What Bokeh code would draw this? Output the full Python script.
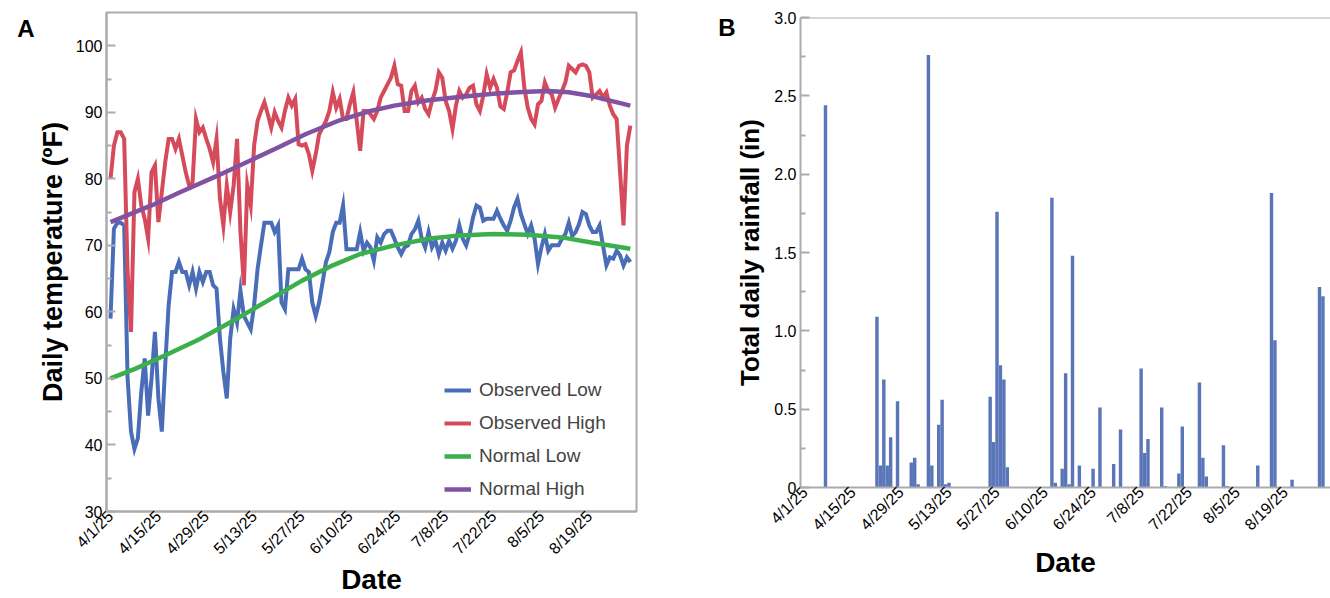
from math import pi
from bokeh.plotting import figure
from bokeh.layouts import row, column
from bokeh.models import (FixedTicker, Legend, LegendItem, Span, Range1d, LinearAxis,
                          CustomJSTickFormatter)
from bokeh.embed import file_html
from bokeh.resources import INLINE

# ---------------- data ----------------
tick_days = [0, 14, 28, 42, 56, 70, 84, 98, 112, 126, 140]
tick_labels = ["4/1/25", "4/15/25", "4/29/25", "5/13/25", "5/27/25", "6/10/25",
               "6/24/25", "7/8/25", "7/22/25", "8/5/25", "8/19/25"]

# daily observed temperatures, 4/1/25 .. 8/31/25 (day 0 .. 152)
observed_low = [
    59, 72.5, 73.4, 73.4, 73, 50, 42, 39.4, 41, 48,
    53, 44.4, 50, 57, 47, 42, 52, 61, 66, 66,
    67.5, 66, 66, 64, 66, 63.5, 66, 64.5, 66, 66,
    64, 63.5, 56, 51, 47, 56, 60.4, 58.4, 63.2, 59.4,
    58.4, 57.4, 61, 66.4, 70, 73.4, 73.4, 73.4, 72, 73,
    61.4, 60.4, 66.4, 66.4, 66.4, 66.4, 68, 66.4, 66, 61.4,
    59.4, 61.4, 64.4, 67.5, 69, 72, 73.4, 73.4, 76, 69.4,
    69.4, 69.4, 69.4, 72, 69.2, 70.4, 69.7, 67.7, 71.2, 70.4,
    71.7, 72.2, 72.2, 71, 69.7, 68.7, 69.7, 70, 71.7, 72.4,
    73.7, 71, 69.7, 72, 69.7, 70.7, 68.7, 70.4, 69.2, 70.7,
    69.5, 70.7, 73, 71, 70, 71.7, 74.2, 76, 75.7, 73.7,
    74, 74, 74, 75.2, 74, 73, 72.2, 73.7, 75.7, 77,
    74.7, 73.2, 71.7, 73, 71, 67.2, 69.7, 71.7, 69.2, 70,
    70, 70, 71, 71.7, 73.4, 71.4, 72, 73.2, 75, 74.7,
    73, 72, 72, 73, 70, 67, 68.2, 68, 69.2, 68.5,
    67, 68.2, 67.5,
]
observed_high = [
    80, 85, 87, 87, 86, 66, 57, 78, 80, 76,
    74, 71, 81, 82, 73.5, 78, 82.5, 86, 86, 84.5,
    86, 83.5, 81, 79, 79.5, 89, 87, 87.7, 86, 84.5,
    82.5, 86, 77, 73, 79, 75, 79, 86, 72, 64,
    79, 76, 85, 88.7, 90.2, 91.5, 89.7, 87.7, 90, 88.7,
    87.7, 90.2, 92.2, 91, 92, 85.2, 85, 85.2, 83.7, 81.2,
    83.7, 86.7, 87.7, 88.7, 90.2, 93, 90.7, 92, 89, 89,
    91.2, 93, 88.7, 84.2, 90.2, 90.2, 89.7, 89, 90.2, 92.2,
    93.2, 94.2, 95.2, 97, 94.2, 94, 90.2, 90.2, 93.2, 94,
    91.5, 92.2, 90.5, 89.7, 91.7, 93.2, 96, 95.2, 91.7, 90.2,
    87.5, 91, 93.2, 92.2, 92.7, 93.7, 94, 91.2, 90.2, 92.5,
    95.7, 93.7, 95, 93.7, 90.9, 90.5, 93, 96, 96.3, 97.7,
    99, 93.7, 90.7, 89, 88.2, 91.2, 91.7, 94.5, 93.2, 92.7,
    90.7, 92, 93.2, 94.5, 97, 96.5, 96, 97, 97.2, 97,
    96, 92.2, 92.7, 93.2, 92.2, 93, 91, 89.7, 89, 81,
    73, 85, 88,
]
obs_days = list(range(len(observed_high)))

# climate normals (read at selected days)
normal_high_days = [0, 12, 20, 31, 39, 49, 57, 67, 76, 83, 93, 102, 112, 122, 128, 134, 141, 152]
normal_high = [73.5, 76.0, 77.9, 80.4, 82.3, 84.7, 86.7, 88.8, 90.2, 91.0, 91.8, 92.3,
               92.8, 93.1, 93.2, 93.0, 92.4, 91.0]
normal_low_days = [0, 7, 17, 26, 36, 46, 56, 65, 73, 83, 93, 102, 112, 122, 132, 141, 152]
normal_low = [50.0, 51.4, 53.7, 55.9, 58.7, 61.7, 64.7, 67.0, 68.7, 70.0, 71.0, 71.5,
              71.7, 71.6, 71.2, 70.4, 69.5]

# daily rainfall (in), days with rain only
rain_days = [6, 21, 22, 23, 24, 25, 27, 31, 32, 33, 36, 37, 39, 40, 41, 42,
             54, 55, 56, 57, 58, 59, 72, 73, 75, 76, 77, 78, 80, 84, 86, 90, 92,
             98, 99, 100, 104, 105, 109, 110, 115, 116, 117, 122, 123, 132,
             136, 137, 142, 150, 151]
rain_in = [2.44, 1.09, 0.14, 0.69, 0.14, 0.32, 0.55, 0.16, 0.19, 0.02, 2.76, 0.14,
           0.40, 0.56, 0.02, 0.03, 0.58, 0.29, 1.76, 0.78, 0.69, 0.13, 1.85, 0.03,
           0.12, 0.73, 0.02, 1.48, 0.14, 0.12, 0.51, 0.15, 0.37, 0.76, 0.22, 0.31,
           0.51, 0.01, 0.09, 0.39, 0.67, 0.19, 0.07, 0.27, 0.01, 0.14, 1.88, 0.94,
           0.05, 1.28, 1.22]

panel_letters = ["A", "B"]

# ---------------- style ----------------
FONT = "Liberation Sans"
GRAY = "#ABABAB"
C_LOW = "#4A6DB8"
C_HIGH = "#D64B5B"
C_NLOW = "#3BAF4B"
C_NHIGH = "#8152A1"
C_BAR = "#5A76B9"

date_fmt = CustomJSTickFormatter(args=dict(days=tick_days, labels=tick_labels), code="""
    const i = days.indexOf(Math.round(tick));
    return i >= 0 ? labels[i] : '';
""")


def style_common(p, ylabel_size):
    p.xgrid.grid_line_color = None
    p.ygrid.grid_line_color = None
    p.background_fill_color = "white"
    p.border_fill_color = "white"
    for ax in (p.xaxis[0], p.yaxis[0]):
        ax.axis_line_color = GRAY
        ax.axis_line_width = 2
        ax.major_label_text_font = FONT
        ax.major_label_text_color = "black"
        ax.axis_label_text_font = FONT
        ax.axis_label_text_font_style = "bold"
        ax.axis_label_text_color = "black"
    xa = p.xaxis[0]
    xa.ticker = FixedTicker(ticks=tick_days)
    xa.formatter = date_fmt
    xa.major_label_orientation = pi / 4
    xa.major_tick_line_color = None
    xa.minor_tick_line_color = None
    xa.major_tick_out = 0
    xa.major_tick_in = 0
    xa.minor_tick_out = 0
    xa.minor_tick_in = 0
    xa.major_label_text_font_size = "16px"
    xa.major_label_standoff = 2
    xa.axis_label = "Date"
    xa.axis_label_text_font_size = "28px"
    ya = p.yaxis[0]
    ya.major_tick_line_color = GRAY
    ya.minor_tick_line_color = GRAY
    ya.major_tick_line_width = 2
    ya.minor_tick_line_width = 2
    ya.major_tick_out = 0
    ya.minor_tick_out = 0
    ya.major_tick_in = 9
    ya.minor_tick_in = 5
    ya.major_label_text_font_size = "16px"
    ya.major_label_standoff = 4
    ya.axis_label_text_font_size = ylabel_size


def letter_axis(p, pos, letter, standoff):
    ax = LinearAxis(ticker=FixedTicker(ticks=[pos]),
                    formatter=CustomJSTickFormatter(args=dict(t=letter), code="return t;"),
                    axis_line_color=None, major_tick_line_color=None, minor_tick_line_color=None,
                    major_tick_in=0, major_tick_out=0, minor_tick_in=0, minor_tick_out=0,
                    major_label_text_font=FONT, major_label_text_font_size="24px",
                    major_label_text_font_style="bold", major_label_text_color="black",
                    major_label_standoff=standoff)
    p.add_layout(ax, "left")


# ---------------- panel A ----------------
pA = figure(width=705, height=598, x_range=Range1d(-1.17, 153.8), y_range=Range1d(30, 105),
            output_backend="svg", toolbar_location=None,
            min_border_left=106, min_border_right=69, min_border_top=12, min_border_bottom=87)
style_common(pA, "27px")
pA.outline_line_color = GRAY
pA.outline_line_width = 2
pA.outline_line_alpha = 1
pA.yaxis[0].ticker = FixedTicker(ticks=[30, 40, 50, 60, 70, 80, 90, 100],
                                 minor_ticks=[35, 45, 55, 65, 75, 85, 95])
pA.yaxis[0].axis_label = "Daily temperature (ºF)"
pA.yaxis[0].axis_label_standoff = 5
pA.xaxis[0].axis_label_standoff = -2

r_low = pA.line(obs_days, observed_low, line_color=C_LOW, line_width=4, line_join="miter")
r_high = pA.line(obs_days, observed_high, line_color=C_HIGH, line_width=4, line_join="miter")
r_nlow = pA.line(normal_low_days, normal_low, line_color=C_NLOW, line_width=4.5)
r_nhigh = pA.line(normal_high_days, normal_high, line_color=C_NHIGH, line_width=4.5)

legend = Legend(items=[LegendItem(label="Observed Low", renderers=[r_low]),
                       LegendItem(label="Observed High", renderers=[r_high]),
                       LegendItem(label="Normal Low", renderers=[r_nlow]),
                       LegendItem(label="Normal High", renderers=[r_nhigh])],
                location=(338, 7), glyph_width=27, glyph_height=30, label_height=30,
                spacing=3, padding=5, label_standoff=8, border_line_color=None,
                background_fill_alpha=0, label_text_font=FONT, label_text_font_size="19px")
pA.add_layout(legend)
letter_axis(pA, 102.6, panel_letters[0], 0)

# ---------------- panel B ----------------
pB = figure(width=625, height=598, x_range=Range1d(-1.28, 153.2), y_range=Range1d(0, 3.0),
            output_backend="svg", toolbar_location=None,
            min_border_left=95, min_border_right=0, min_border_top=17, min_border_bottom=111)
style_common(pB, "26px")
pB.outline_line_color = None
pB.yaxis[0].ticker = FixedTicker(ticks=[0, 0.5, 1.0, 1.5, 2.0, 2.5, 3.0],
                                 minor_ticks=[0.25, 0.75, 1.25, 1.75, 2.25, 2.75])
pB.yaxis[0].formatter = CustomJSTickFormatter(code="return tick == 0 ? '0' : tick.toFixed(1);")
pB.yaxis[0].axis_label = "Total daily rainfall (in)"
pB.yaxis[0].axis_label_standoff = 6
pB.xaxis[0].axis_label_standoff = 5
pB.vbar(x=rain_days, top=rain_in, width=1.0, fill_color=C_BAR, line_color=None)
pB.add_layout(Span(location=3.0, dimension="width", line_color=GRAY, line_width=2))
letter_axis(pB, 2.933, panel_letters[1], -3)

layout = row(column(pA), column(pB))
open("out.html", "w").write(file_html(layout, INLINE))
